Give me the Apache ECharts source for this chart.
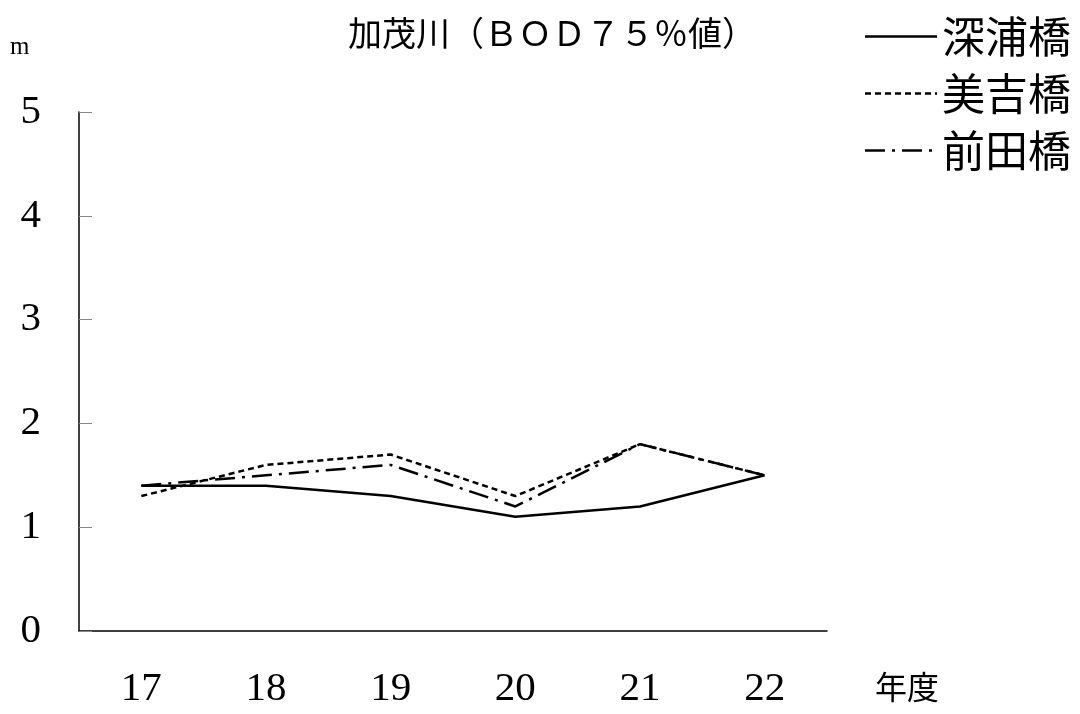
<!DOCTYPE html>
<html>
<head>
<meta charset="utf-8">
<script src="https://cdn.jsdelivr.net/npm/echarts@6/dist/echarts.min.js"></script>
<style>
html,body{margin:0;padding:0;background:#fff;}
#c{width:1080px;height:714px;}
</style>
</head>
<body>
<div id="c"></div>
<script>
const categories = ['17', '18', '19', '20', '21', '22'];
const fukaura = [1.4, 1.4, 1.3, 1.1, 1.2, 1.5];
const miyoshi = [1.3, 1.6, 1.7, 1.3, 1.8, 1.5];
const maeda = [1.4, 1.5, 1.6, 1.2, 1.8, 1.5];
const seriesNames = ['深浦橋', '美吉橋', '前田橋'];

const serif = '"Liberation Serif", "DejaVu Serif", serif';
const cjk = '"Noto Sans CJK JP", sans-serif';

const chart = echarts.init(document.getElementById('c'));
chart.setOption({
  backgroundColor: '#fff',
  animation: false,
  title: {
    text: '加茂川（ＢＯＤ７５％値）',
    left: 343,
    top: 11,
    textStyle: { fontFamily: cjk, fontSize: 34, fontWeight: 'normal', color: '#000' }
  },
  legend: {
    orient: 'vertical',
    right: 4,
    top: 10,
    itemWidth: 72,
    itemHeight: 14,
    itemGap: 14,
    itemStyle: { opacity: 0 },
    lineStyle: { width: 2.5 },
    textStyle: { fontFamily: cjk, fontSize: 43, color: '#000' },
    data: seriesNames
  },
  grid: { left: 79, right: 253, top: 112, bottom: 83, containLabel: false },
  xAxis: {
    type: 'category',
    data: categories,
    boundaryGap: true,
    name: '年度',
    nameLocation: 'end',
    nameGap: 48,
    nameTextStyle: { fontFamily: cjk, fontSize: 32, color: '#000', verticalAlign: 'top', padding: [40, 0, 0, 0] },
    axisLine: { lineStyle: { color: '#000', width: 1.5 } },
    axisTick: { show: false },
    axisLabel: { fontFamily: serif, fontSize: 41, color: '#000', margin: 38 },
    splitLine: { show: false }
  },
  yAxis: {
    type: 'value',
    min: 0,
    max: 5,
    interval: 1,
    name: 'm',
    nameLocation: 'end',
    nameGap: 52,
    nameTextStyle: { fontFamily: serif, fontSize: 25, color: '#000', align: 'left', padding: [0, 0, 0, -69] },
    axisLine: { show: true, lineStyle: { color: '#000', width: 1.5 } },
    axisTick: { show: true, inside: true, length: 13, lineStyle: { color: '#888', width: 1 } },
    axisLabel: { fontFamily: serif, fontSize: 41, color: '#000', margin: 38 },
    splitLine: { show: false }
  },
  series: [
    {
      name: seriesNames[0], type: 'line', data: fukaura, symbol: 'none',
      lineStyle: { color: '#000', width: 2.5, type: 'solid' },
      itemStyle: { color: '#000' }
    },
    {
      name: seriesNames[1], type: 'line', data: miyoshi, symbol: 'none',
      lineStyle: { color: '#000', width: 2.5, type: [6, 4] },
      itemStyle: { color: '#000' }
    },
    {
      name: seriesNames[2], type: 'line', data: maeda, symbol: 'none',
      lineStyle: { color: '#000', width: 2.5, type: [20, 7, 3, 7] },
      itemStyle: { color: '#000' }
    }
  ]
});
</script>
</body>
</html>
